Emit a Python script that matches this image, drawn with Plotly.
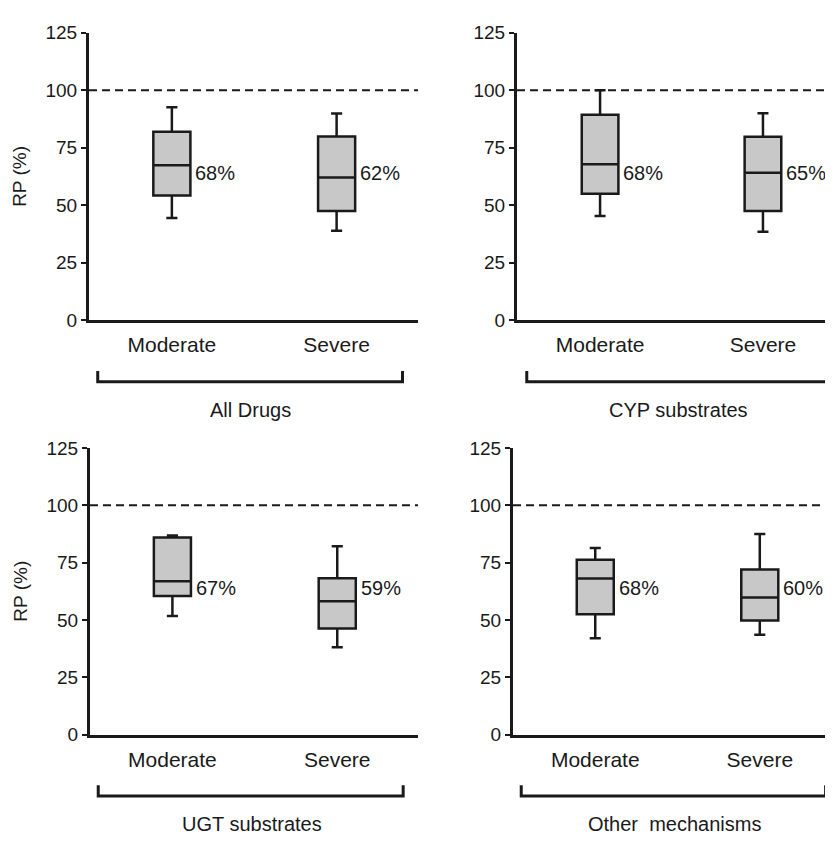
import plotly.graph_objects as go

# ---------------- data ----------------
categories = ["Moderate", "Severe"]
panel_titles = ["All Drugs", "CYP substrates", "UGT substrates", "Other\u00a0 mechanisms"]

lower_whisker = [[44.4, 38.9], [45.3, 38.4], [51.7, 38.1], [42.0, 43.5]]
q1_values     = [[54.2, 47.5], [55.0, 47.5], [60.4, 46.2], [52.5, 49.7]]
median_values = [[67.4, 62.0], [67.8, 64.1], [66.8, 58.1], [68.0, 59.8]]
q3_values     = [[81.9, 79.8], [89.3, 79.7], [85.9, 68.2], [76.2, 72.0]]
upper_whisker = [[92.6, 89.9], [100.0, 90.0], [86.8, 82.1], [81.4, 87.5]]
median_labels = [["68%", "62%"], ["68%", "65%"], ["67%", "59%"], ["68%", "60%"]]

y_ticks = [0, 25, 50, 75, 100, 125]
reference_line = 100
label_level = 64

# ---------------- layout constants ----------------
# The html page has an 8px body margin, so the figure sits at (8, 8) in the window.
OFF = 8
WIN_W, WIN_H = 833, 844
W, H = WIN_W - OFF, WIN_H - OFF
FONT = "Liberation Sans, Arial, sans-serif"
INK = "#1a1a1a"
BOX_W = 0.225

def px_x(p):          # window pixel -> paper x
    return (p - OFF) / W

def px_y(p):          # window pixel -> paper y
    return 1 - (p - OFF) / H

# panel window-pixel boxes: (left, right, top(125), bottom(0))
panels = [
    (89, 418, 23, 318),
    (517, 833, 23, 318),
    (90, 418, 449, 743),
    (513, 833, 449, 743),
]
x_ranges = [[-0.503, 1.494], [-0.51, 1.43], [-0.5, 1.49], [-0.5, 1.445]]

fig = go.Figure()
shapes = []
annotations = []

for i in range(4):
    xa = "x" if i == 0 else f"x{i+1}"
    ya = "y" if i == 0 else f"y{i+1}"
    fig.add_trace(go.Box(
        x=[0, 1],
        q1=q1_values[i], median=median_values[i], q3=q3_values[i],
        lowerfence=lower_whisker[i], upperfence=upper_whisker[i],
        width=BOX_W, whiskerwidth=0.3,
        fillcolor="#c8c8c8",
        line=dict(color=INK, width=2.5),
        boxpoints=False, showlegend=False, hoverinfo="skip",
        xaxis=xa, yaxis=ya,
    ))
    l, r, t, b = panels[i]
    xkey = "xaxis" if i == 0 else f"xaxis{i+1}"
    ykey = "yaxis" if i == 0 else f"yaxis{i+1}"
    fig.update_layout(**{
        xkey: dict(
            domain=[px_x(l), min(1.0, px_x(r))], range=x_ranges[i], anchor=ya,
            tickvals=[0, 1], ticktext=categories,
            ticks="outside", ticklen=4, tickcolor="rgba(0,0,0,0)",
            showline=True, linecolor=INK, linewidth=3,
            showgrid=False, zeroline=False,
            tickfont=dict(family=FONT, size=21, color=INK),
        ),
        ykey: dict(
            domain=[px_y(b), px_y(t)], range=[0, 125], anchor=xa,
            tickvals=y_ticks, ticks="outside", ticklen=5, tickwidth=2, tickcolor=INK,
            showline=True, linecolor=INK, linewidth=3,
            showgrid=False, zeroline=False,
            tickfont=dict(family=FONT, size=19, color=INK),
            title=dict(text="RP (%)" if i in (0, 2) else "",
                       font=dict(family=FONT, size=19, color=INK), standoff=14),
        ),
    })
    # dashed reference line
    shapes.append(dict(type="line", xref=f"{xa} domain", yref=ya,
                       x0=0, x1=1, y0=reference_line, y1=reference_line,
                       line=dict(color=INK, width=2, dash="8px,5px")))
    # bracket under categories
    yb = b + 63
    shapes.append(dict(type="path", xref=xa, yref="paper",
                       path=f"M -0.45,{px_y(yb-11)} L -0.45,{px_y(yb)} L 1.40,{px_y(yb)} L 1.40,{px_y(yb-11)}",
                       line=dict(color=INK, width=3)))
    annotations.append(dict(xref=xa, yref="paper", x=0.48, y=px_y(b + 92),
                            text=panel_titles[i], showarrow=False,
                            font=dict(family=FONT, size=20, color=INK),
                            xanchor="center", yanchor="middle"))
    # median labels
    for j in range(2):
        annotations.append(dict(xref=xa, yref=ya, x=j + BOX_W / 2, y=label_level,
                                text=median_labels[i][j], showarrow=False,
                                xanchor="left", yanchor="middle", xshift=4, borderpad=0,
                                font=dict(family=FONT, size=20, color=INK)))

fig.update_layout(
    width=W, height=H,
    margin=dict(l=0, r=0, t=0, b=0),
    paper_bgcolor="white", plot_bgcolor="white",
    shapes=shapes, annotations=annotations,
    showlegend=False,
)

fig.write_html("out.html")
